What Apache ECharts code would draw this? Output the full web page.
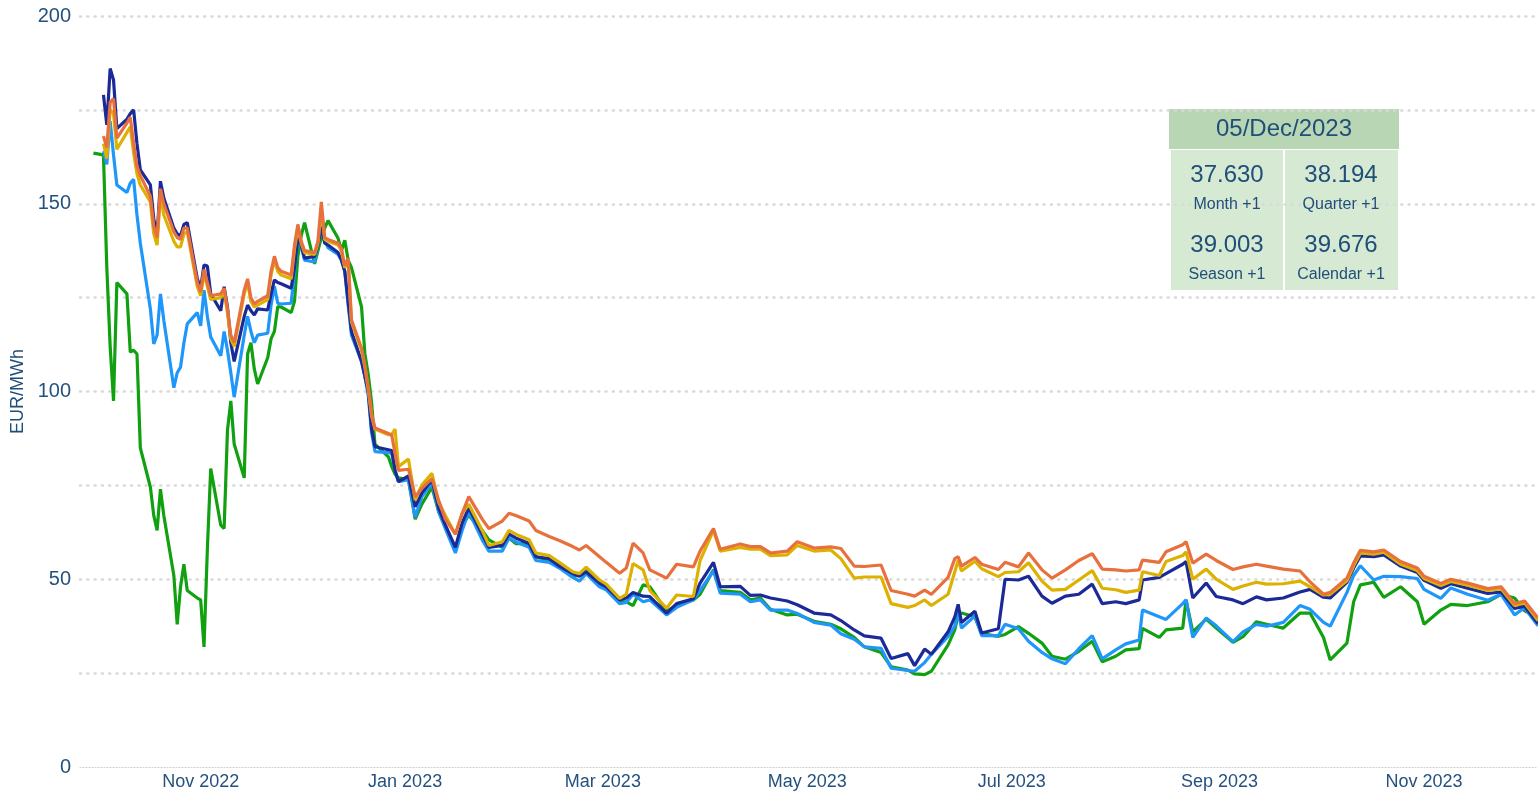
<!DOCTYPE html>
<html>
<head>
<meta charset="utf-8">
<title>Forward prices EUR/MWh</title>
<script src="https://cdn.jsdelivr.net/npm/echarts@6.0.0/dist/echarts.min.js"></script>
<style>
  html, body { margin: 0; padding: 0; background: #ffffff; }
  #line_chart { width: 1538px; height: 791px; }
</style>
</head>
<body>
<div id="line_chart"></div>
<script>
var dates = [
  '2022-09-30',
  '2022-10-03','2022-10-04','2022-10-05','2022-10-06','2022-10-07','2022-10-10','2022-10-11','2022-10-12','2022-10-13','2022-10-14',
  '2022-10-17','2022-10-18','2022-10-19','2022-10-20','2022-10-21','2022-10-24','2022-10-25','2022-10-26','2022-10-27','2022-10-28','2022-10-31',
  '2022-11-01','2022-11-02','2022-11-03','2022-11-04','2022-11-07','2022-11-08','2022-11-09','2022-11-10','2022-11-11','2022-11-14','2022-11-15',
  '2022-11-16','2022-11-17','2022-11-18','2022-11-21','2022-11-22','2022-11-23','2022-11-24','2022-11-25','2022-11-28','2022-11-29','2022-11-30',
  '2022-12-01','2022-12-02','2022-12-05','2022-12-06','2022-12-07','2022-12-08','2022-12-09','2022-12-12','2022-12-13','2022-12-14','2022-12-15',
  '2022-12-16','2022-12-19','2022-12-20','2022-12-21','2022-12-22','2022-12-23','2022-12-27','2022-12-28','2022-12-29','2022-12-30',
  '2023-01-02','2023-01-04','2023-01-06','2023-01-09','2023-01-11','2023-01-13','2023-01-16','2023-01-18','2023-01-20','2023-01-24','2023-01-26','2023-01-30',
  '2023-02-01','2023-02-03','2023-02-07','2023-02-09','2023-02-13','2023-02-16','2023-02-20','2023-02-22','2023-02-24','2023-02-28',
  '2023-03-02','2023-03-06','2023-03-08','2023-03-10','2023-03-13','2023-03-15','2023-03-20','2023-03-23','2023-03-28','2023-03-30',
  '2023-04-03','2023-04-05','2023-04-11','2023-04-14','2023-04-17','2023-04-20','2023-04-25','2023-04-28',
  '2023-05-03','2023-05-08','2023-05-11','2023-05-15','2023-05-18','2023-05-23','2023-05-26','2023-05-31',
  '2023-06-02','2023-06-05','2023-06-07','2023-06-12','2023-06-14','2023-06-15','2023-06-16','2023-06-20','2023-06-22','2023-06-27','2023-06-29',
  '2023-07-03','2023-07-06','2023-07-10','2023-07-13','2023-07-17','2023-07-21','2023-07-25','2023-07-28',
  '2023-08-01','2023-08-04','2023-08-08','2023-08-09','2023-08-14','2023-08-16','2023-08-21','2023-08-22','2023-08-24','2023-08-28','2023-08-31',
  '2023-09-05','2023-09-08','2023-09-12','2023-09-15','2023-09-20','2023-09-25','2023-09-28',
  '2023-10-02','2023-10-04','2023-10-09','2023-10-11','2023-10-13','2023-10-17','2023-10-20','2023-10-25','2023-10-30',
  '2023-11-01','2023-11-06','2023-11-09','2023-11-14','2023-11-20','2023-11-24','2023-11-28',
  '2023-12-01','2023-12-05'
];

// green
var spot = [
  163.5,
  163, 133, 112, 97.5, 129, 126, 110.5, 111, 110, 85,
  74.5, 67, 63, 74, 67, 51, 38, 48, 54, 47, 45,
  44.5, 32, 58, 79.5, 64.4, 63.5, 89.7, 97.5, 86, 77, 110,
  113, 106, 102, 109, 114, 116, 122.6, 122.5, 121, 124, 136,
  141.5, 145, 134, 137.5, 141, 143.5, 145.5, 140.8, 137.5, 140.3, 135,
  133, 122.5, 110, 104.5, 97, 86, 82.6, 80, 78, 77,
  76.5, 66, 70, 74.5, 68, 64, 58, 64.5, 67, 63, 60.5, 58.5,
  61, 59.5, 59.5, 56, 55, 54, 50.8, 51, 53, 48.5,
  47.5, 44, 44, 43, 48.5, 48, 41.5, 43, 44.5, 46,
  52.5, 47, 46.5, 44.5, 45, 42, 40.5, 40.7,
  38.8, 38, 36.8, 34.5, 32, 30.5, 26.7, 25.8,
  24.8, 24.6, 25.5, 32.5, 36.5, 40.5, 41, 40, 35.5, 34.8, 35.3,
  37.4, 35.6, 33, 29.5, 28.7, 30.8, 33.5, 28,
  29.5, 31.2, 31.5, 36.9, 34.5, 36.5, 37, 44.5, 36, 39.4, 37,
  33.2, 34.7, 38.7, 38, 37, 41, 41,
  34.5, 28.5, 33, 44, 48.5, 49.2, 45.2, 48, 44,
  38, 41.8, 43.3, 43, 44, 46, 45,
  41.6, 39.8
];

// light blue
var monthAhead = [
  null,
  164, 160.5, 172, 163, 155, 153, 155.5, 156.5, 147, 139.5,
  122, 112.7, 115, 126, 119, 101, 105, 106.5, 113, 118, 121,
  117.5, 127, 120, 114.5, 109.5, 116, 111, 105, 98.5, 115, 120,
  116, 113, 115, 115.5, 123, 128, 123.5, 123.3, 123.5, 132, 141,
  138.5, 135, 134.5, 139, 143, 140.5, 138.3, 136.5, 135, 132, 123,
  115, 108, 104, 99, 89, 84, 83.7, 83.5, 79, 76,
  76.5, 66.5, 72, 75.5, 68, 63.5, 57, 63, 68, 60.5, 57.5, 57.5,
  61, 60, 58.5, 55, 54.5, 53, 50.5, 49.5, 51.5, 48,
  47.2, 43.5, 43.8, 46, 44, 44.5, 40.5, 42.5, 44.5, 47,
  52.3, 46.3, 46, 44, 44.5, 41.8, 41.8, 40.9,
  38.5, 37.8, 35.5, 34, 32, 31.6, 26.3, 25.7,
  25.5, 27.8, 30, 34.8, 37.5, 41.5, 37, 40.2, 35, 35, 38,
  36.8, 33.5, 30.5, 28.8, 27.5, 31.5, 35, 28.8,
  31.2, 32.8, 33.8, 41.8, 40, 39.3, 43.5, 44.5, 34.5, 39.7, 37.6,
  33.4, 36, 38, 37.5, 38.5, 43, 42,
  38.5, 37.5, 46.5, 51, 53.6, 49.8, 50.8, 50.7, 50.2,
  47.3, 44.9, 47.7, 46, 44.4, 46, 40.5,
  42.4, 37.63
];

// navy
var quarterAhead = [
  null,
  179, 171, 186, 183, 170, 172.5, 174, 175, 166, 159,
  155, 146, 141.5, 156, 151.5, 143.5, 142, 141.5, 144.5, 145, 130,
  127.5, 133.7, 133.4, 126, 121.5, 127.9, 122.5, 113, 108, 120, 123,
  121.5, 120.4, 122, 121.7, 126, 129.7, 129, 128.7, 127.5, 133, 141,
  139, 135.5, 136, 139, 143.9, 139.5, 139, 137, 135, 132, 124,
  116, 108, 104, 100, 90, 85.3, 84.5, 84.3, 79, 76,
  77.5, 69.3, 73, 76.5, 69, 64.5, 58.5, 65, 69, 62, 58.5, 59,
  62, 61, 59.5, 56, 55.5, 53.5, 51.5, 50.8, 52, 49,
  48, 44.5, 45, 46.5, 45.5, 45.4, 41, 43.5, 44.8, 49,
  54.5, 48, 48.1, 45.7, 45.8, 45, 44.2, 43.2,
  41, 40.5, 39, 36.5, 34.9, 34.3, 28.9, 30.2,
  27, 31.4, 30, 36, 40, 43.3, 38.5, 41.5, 35.7, 36.8, 50,
  49.8, 50.8, 45.5, 43.6, 45.5, 46, 48.7, 43.5,
  44, 43.5, 44.5, 49.8, 50.5, 51.5, 54, 54.7, 45, 49, 45.4,
  44.5, 43.5, 45.3, 44.5, 45, 46.6, 47.3,
  45.2, 45, 49.2, 53, 56.2, 56, 56.5, 53.5, 51.8,
  49.7, 47.6, 48.8, 47.6, 46.2, 46.6, 42.2,
  42.8, 38.194
];

// yellow
var seasonAhead = [
  null,
  166, 162, 175, 174, 164.5, 169, 170.5, 163.5, 158, 155,
  150.5, 142, 139, 152.5, 147, 140, 138.5, 138.5, 142, 142.5, 128,
  125.5, 131.5, 128, 124.5, 125, 126.5, 121, 114, 112, 126, 129,
  124, 122.5, 123, 124.5, 131, 135, 132, 131, 130, 138, 143.5,
  139.5, 137, 136.5, 139.5, 148.5, 140.5, 140, 139, 137.5, 133, 134.5,
  118.5, 111, 106.5, 100.5, 93.5, 90, 88.5, 88.5, 90, 80,
  82, 71.1, 75.1, 78.2, 70.5, 67, 62, 67.5, 70, 63, 59, 60,
  63, 62, 60.5, 57, 56.3, 54.5, 52, 51.5, 53.2, 49.8,
  48.7, 44.9, 46, 54.2, 52.5, 47, 42.3, 45.8, 45.4, 55,
  63, 57.5, 58.5, 58, 58, 56.3, 56.5, 59,
  57.5, 57.8, 55.5, 50.3, 50.6, 50.6, 43.5, 42.5,
  43, 44.5, 43, 46, 52, 55, 52.2, 54.8, 52.8, 50.7, 51.8,
  52, 54.4, 49.5, 47.1, 47.3, 49.8, 52.3, 47.6,
  47.2, 46.5, 47.1, 52, 51, 54.7, 56.3, 57.3, 50, 52.7, 50,
  47.3, 48.2, 49.2, 48.7, 48.8, 49.5, 48,
  45.8, 46, 49.6, 53.6, 57, 56.7, 57.2, 54, 52.3,
  50.2, 48.3, 49.4, 48.4, 47, 47.5, 43,
  43.7, 39.003
];

// orange
var calendarAhead = [
  null,
  168, 165, 177, 178, 167.5, 171.5, 173, 166, 160, 157.5,
  152, 144, 141, 154, 150, 142.5, 141, 140.5, 143.5, 143.5, 129,
  126.5, 132.5, 129, 125.5, 126, 127.5, 122, 115, 113, 127, 130,
  125, 123.3, 124, 125.5, 132, 136, 133, 132, 131, 139, 144.5,
  140, 137.5, 137, 140, 150.5, 141, 140.5, 139.5, 138, 133.5, 135.5,
  119, 111.5, 107, 101, 94, 90.3, 88.8, 88.4, 83.5, 79,
  79.3, 72, 74.2, 76.8, 71, 66, 62, 67.5, 72, 66, 63.5, 65.5,
  67.6, 67, 65.5, 63, 61.4, 60.3, 58.7, 57.8, 59, 56,
  54.5, 51.6, 53, 59.6, 57, 52.5, 50.3, 54, 53.3, 57.5,
  63.5, 58, 59.4, 58.7, 58.7, 57, 57.5, 60,
  58.3, 58.6, 58.2, 53.5, 53.4, 53.8, 47, 46,
  45.5, 47.1, 46, 50.5, 55.5, 56, 53.5, 55.8, 54, 52.6, 54.5,
  53.3, 57, 52.5, 50.3, 52.5, 55, 56.8, 52.7,
  52.5, 52.2, 52.5, 55.1, 54.5, 57.3, 59.2, 60, 54.3, 56.7, 55,
  52.6, 53.3, 54, 53.5, 52.7, 52.2, 49.3,
  46, 46.5, 50.3, 54.3, 57.7, 57.3, 57.8, 54.7, 53,
  50.8, 48.9, 50, 49, 47.5, 48, 43.5,
  44.2, 39.676
];

var monthNames = ['Jan', 'Feb', 'Mar', 'Apr', 'May', 'Jun', 'Jul', 'Aug', 'Sep', 'Oct', 'Nov', 'Dec'];

var boxDate = '05/Dec/2023';
var boxValues = ['37.630', '38.194', '39.003', '39.676'];
var boxLabels = ['Month +1', 'Quarter +1', 'Season +1', 'Calendar +1'];

var textBlue = '#1f4e79';
var font = '"Liberation Sans", Arial, sans-serif';

function toTime(s) {
  var p = s.split('-');
  return new Date(+p[0], +p[1] - 1, +p[2]).getTime();
}

function pairs(values) {
  return dates.map(function (d, i) {
    return [toTime(d), values[i] === undefined ? null : values[i]];
  });
}

function line(name, values, color) {
  return {
    name: name,
    type: 'line',
    z: 3,
    data: pairs(values),
    showSymbol: false,
    symbol: 'none',
    connectNulls: true,
    lineStyle: { color: color, width: 3.2 },
    itemStyle: { color: color },
    emphasis: { disabled: true }
  };
}

// info box (header + 2x2 cells); fills sit under the grid dots, texts above
var cellCenters = [[1227, 175], [1341, 175], [1227, 245], [1341, 245]];
var boxGraphics = [
  { type: 'rect', z: 1, shape: { x: 1169, y: 109, width: 230, height: 40 }, style: { fill: '#b8d6b4' } },
  { type: 'rect', z: 1, shape: { x: 1171, y: 150, width: 112, height: 140 }, style: { fill: '#d6e9d3' } },
  { type: 'rect', z: 1, shape: { x: 1285, y: 150, width: 113, height: 140 }, style: { fill: '#d6e9d3' } },
  {
    type: 'text', z: 101, x: 1284, y: 129,
    style: { text: boxDate, fill: textBlue, font: '24px ' + font, align: 'center', verticalAlign: 'middle', textAlign: 'center', textVerticalAlign: 'middle' }
  }
];
cellCenters.forEach(function (c, i) {
  boxGraphics.push({
    type: 'text', z: 101, x: c[0], y: c[1],
    style: { text: boxValues[i], fill: textBlue, font: '24px ' + font, align: 'center', verticalAlign: 'middle', textAlign: 'center', textVerticalAlign: 'middle' }
  });
  boxGraphics.push({
    type: 'text', z: 101, x: c[0], y: c[1] + 30,
    style: { text: boxLabels[i], fill: textBlue, font: '16px ' + font, align: 'center', verticalAlign: 'middle', textAlign: 'center', textVerticalAlign: 'middle' }
  });
});

var lineChart = echarts.init(document.getElementById('line_chart'), null, { renderer: 'canvas' });

var option = {
  animation: false,
  textStyle: { fontFamily: font },
  grid: { left: 80, right: -3, top: 16, bottom: 24, containLabel: false },
  xAxis: {
    type: 'time',
    min: toTime('2022-09-26'),
    max: toTime('2023-12-05'),
    splitNumber: 7,
    axisLine: { show: true, lineStyle: { color: '#cccccc', width: 1, type: [1, 2] } },
    axisTick: { show: false },
    splitLine: { show: false },
    axisLabel: {
      formatter: function (v) {
        var d = new Date(v);
        return monthNames[d.getMonth()] + ' ' + d.getFullYear();
      },
      color: '#24527f',
      fontSize: 18,
      margin: 6,
      fontWeight: 'normal'
    }
  },
  yAxis: {
    type: 'value',
    z: 2,
    min: 0,
    max: 200,
    interval: 25,
    name: 'EUR/MWh',
    nameLocation: 'middle',
    nameGap: 52,
    nameTextStyle: { color: textBlue, fontSize: 18 },
    axisLine: { show: false },
    axisTick: { show: false },
    axisLabel: {
      formatter: function (v) { return v % 50 === 0 ? String(v) : ''; },
      color: '#24527f',
      fontSize: 20,
      margin: 9
    },
    splitLine: {
      show: true,
      showMinLine: false,
      lineStyle: { color: '#d9d9d9', width: 2.5, type: [1, 6.3], cap: 'round' }
    }
  },
  series: [
    line('Spot', spot, '#10a010'),
    line('Month +1', monthAhead, '#1e96fa'),
    line('Quarter +1', quarterAhead, '#1b2a96'),
    line('Season +1', seasonAhead, '#dcb100'),
    line('Calendar +1', calendarAhead, '#e8703c')
  ],
  graphic: boxGraphics
};

lineChart.setOption(option);
window.addEventListener('resize', lineChart.resize);
</script>
</body>
</html>
